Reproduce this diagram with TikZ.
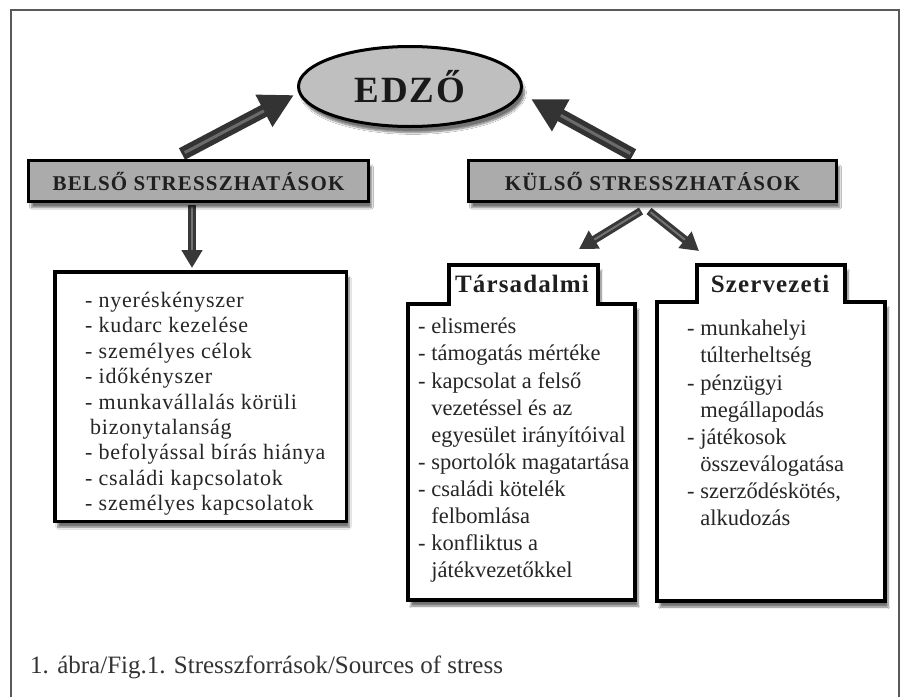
\documentclass[tikz,border=0pt]{standalone}
\usepackage{fontspec}
\setmainfont{Liberation Serif}
\newfontfamily\lsfont[LetterSpace=3.3]{Liberation Serif}
\newfontfamily\hdfont[LetterSpace=5.5]{Liberation Serif}
\newfontfamily\tabfont[LetterSpace=4.5]{Liberation Serif}
\usetikzlibrary{shapes.geometric,arrows.meta,shadows.blur}
\newcommand\ind{\hphantom{-}\ }
\begin{document}
\begin{tikzpicture}[x=1pt,y=-1pt,
  shadowed/.style={blur shadow={shadow xshift=3pt, shadow yshift=-6pt, shadow blur steps=8, shadow opacity=55}},
  hdbox/.style={rectangle, draw=black, line width=3.2pt, fill=black!33, minimum width=#1, minimum height=40.8pt, inner sep=0pt, font=\hdfont\bfseries\fontsize{21}{25}\selectfont, text=black!88, shadowed},
  listbox/.style={rectangle, draw=black, line width=3.5pt, fill=white, inner sep=0pt, shadowed},
  tabbox/.style={draw=black, line width=3.5pt, fill=white, line join=miter, shadowed},
  listtext/.style={anchor=north west, inner sep=0pt, align=left, text=black!85},
  tabtext/.style={anchor=base, inner sep=0pt, font=\tabfont\bfseries\fontsize{25}{30}\selectfont, text=black!88},
  arrowbig/.style={line width=13pt, draw=black!80, -{Triangle[length=34pt, width=34pt]}},
  arrowhl/.style={line width=3pt, draw=black!58, shorten >=34pt, shorten <=3pt},
  arrowsm/.style={line width=8pt, draw=black!78, -{Triangle[length=18pt, width=20pt]}},
  arrowhlsm/.style={line width=2pt, draw=black!55, shorten >=18pt, shorten <=2pt}
]
\useasboundingbox (0,0) rectangle (906,697);
\fill[white] (0,0) rectangle (906,697);
% outer frame
\draw[black!65, line width=1.6pt] (11,697) -- (11,10) -- (899,10) -- (899,697);

% arrow end points
\coordinate (a1s) at (182,154); \coordinate (a1e) at (294,95);
\coordinate (a2s) at (633,155); \coordinate (a2e) at (531,99);
\coordinate (a3s) at (192,205); \coordinate (a3e) at (192,268);
\coordinate (a4s) at (641,211); \coordinate (a4e) at (579,249);
\coordinate (a5s) at (649,211); \coordinate (a5e) at (699,251);

% arrows
\draw[arrowbig] (a1s) -- (a1e);
\draw[arrowhl] (a1s) -- (a1e);
\draw[arrowbig] (a2s) -- (a2e);
\draw[arrowhl] (a2s) -- (a2e);
\draw[arrowsm] (a3s) -- (a3e);
\draw[arrowhlsm] (a3s) -- (a3e);
\draw[arrowsm] (a4s) -- (a4e);
\draw[arrowhlsm] (a4s) -- (a4e);
\draw[arrowsm] (a5s) -- (a5e);
\draw[arrowhlsm] (a5s) -- (a5e);

% coach
\node[ellipse, draw=black, line width=3pt, fill=black!25, minimum width=223pt, minimum height=80pt, inner sep=0pt, shadowed,
      font=\hdfont\bfseries\fontsize{37}{40}\selectfont, text=black!90] (edzo) at (410,86.5) {EDZŐ};

% headings
\node[hdbox=340] (belso) at (198.5,181) {BELSŐ STRESSZHATÁSOK};
\node[hdbox=368] (kulso) at (652.5,181) {KÜLSŐ STRESSZHATÁSOK};

% inner list
\node[listbox, minimum width=291.5pt, minimum height=249.5pt] (blist) at (200.5,396.5) {};
\node[listtext, font=\lsfont\fontsize{22}{25.4}\selectfont] (btext) at (85,292) {- nyeréskényszer\\
- kudarc kezelése\\
- személyes célok\\
- időkényszer\\
- munkavállalás körüli\\
\hspace*{5pt}bizonytalanság\\
- befolyással bírás hiánya\\
- családi kapcsolatok\\
- személyes kapcsolatok};

% social box
\path[tabbox] (408,304) -- (449,304) -- (449,265) -- (598,265) -- (598,304) -- (635,304) -- (635,600) -- (408,600) -- cycle;
\node[tabtext] (tars) at (522,292) {Társadalmi};
\node[listtext, font=\fontsize{22.5}{27.1}\selectfont] (ttext) at (418,318) {- elismerés\\
- támogatás mértéke\\
- kapcsolat a felső\\
\ind vezetéssel és az\\
\ind egyesület irányítóival\\
- sportolók magatartása\\
- családi kötelék\\
\ind felbomlása\\
- konfliktus a\\
\ind játékvezetőkkel};

% organisational box
\path[tabbox] (657,302) -- (697,302) -- (697,265) -- (845,265) -- (845,302) -- (885,302) -- (885,601) -- (657,601) -- cycle;
\node[tabtext] (szerv) at (770,292) {Szervezeti};
\node[listtext, font=\fontsize{22.5}{27.1}\selectfont] (stext) at (687,320) {- munkahelyi\\
\ind túlterheltség\\
- pénzügyi\\
\ind megállapodás\\
- játékosok\\
\ind összeválogatása\\
- szerződéskötés,\\
\ind alkudozás};

% caption
\node[anchor=base west, inner sep=0pt, font=\fontsize{25}{30}\selectfont, text=black!80] (cap) at (30,673) {1. ábra/Fig.1. Stresszforrások/Sources of stress};
\end{tikzpicture}
\end{document}
